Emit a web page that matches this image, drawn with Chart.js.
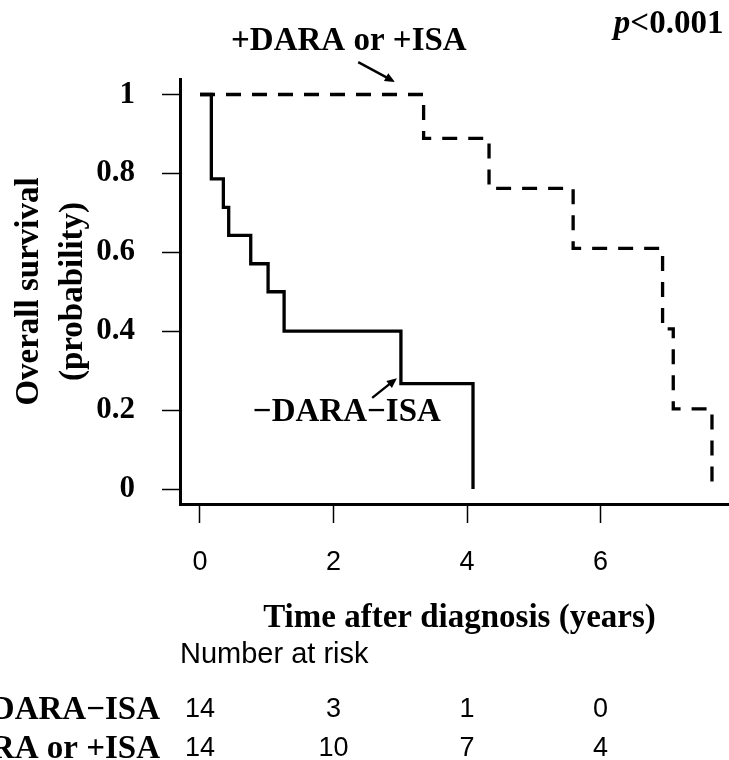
<!DOCTYPE html>
<html>
<head>
<meta charset="utf-8">
<script src="https://cdn.jsdelivr.net/npm/chart.js@4.4.1/dist/chart.umd.min.js"></script>
<style>
  html, body { margin: 0; padding: 0; background: #fff; }
  #wrap { width: 729px; height: 760px; }
</style>
</head>
<body>
<div id="wrap"><canvas id="km" width="729" height="760"></canvas></div>
<script>
// Kaplan-Meier curves (time in years, survival probability)
const groupNames = ['\u2212DARA\u2212ISA', '+DARA or +ISA'];
const noDaraTimes = [0, 0.17, 0.35, 0.43, 0.76, 1.02, 1.26, 3.01, 4.09];
const noDaraSurv = [1, 0.786, 0.714, 0.643, 0.571, 0.5, 0.4, 0.267, 0];
const daraTimes = [0, 3.35, 4.33, 5.59, 6.93, 7.09, 7.67];
const daraSurv = [1, 0.889, 0.762, 0.610, 0.406, 0.203, 0];
const xTickValues = [0, 2, 4, 6];
const yTickValues = [0, 0.2, 0.4, 0.6, 0.8, 1];
const riskNoDara = [14, 3, 1, 0];
const riskDara = [14, 10, 7, 4];
const pValueText = '<0.001';

const SERIF = '"Liberation Serif", "Times New Roman", serif';
const SANS = '"Liberation Sans", Arial, sans-serif';

function toPoints(times, surv) {
    return times.map((t, i) => ({ x: t, y: surv[i] }));
}

function arrow(ctx, x1, y1, x2, y2) {
    const a = Math.atan2(y2 - y1, x2 - x1);
    const len = 10, half = 4.5;
    ctx.beginPath();
    ctx.moveTo(x1, y1);
    ctx.lineTo(x2 - Math.cos(a) * len * 0.8, y2 - Math.sin(a) * len * 0.8);
    ctx.lineWidth = 2.4;
    ctx.stroke();
    ctx.beginPath();
    ctx.moveTo(x2, y2);
    ctx.lineTo(x2 - Math.cos(a) * len - Math.sin(a) * half, y2 - Math.sin(a) * len + Math.cos(a) * half);
    ctx.lineTo(x2 - Math.cos(a) * len + Math.sin(a) * half, y2 - Math.sin(a) * len - Math.cos(a) * half);
    ctx.closePath();
    ctx.fill();
}

const overlayPlugin = {
    id: 'kmOverlay',
    afterDraw(chart) {
        const ctx = chart.ctx;
        const X = v => chart.scales.x.getPixelForValue(v);
        const Y = v => chart.scales.y.getPixelForValue(v);
        const area = chart.chartArea;
        ctx.save();
        ctx.fillStyle = '#000';
        ctx.strokeStyle = '#000';

        // curve labels + arrows
        ctx.font = 'bold 33px ' + SERIF;
        ctx.textAlign = 'center';
        ctx.textBaseline = 'alphabetic';
        ctx.fillText(groupNames[1], X(2.23), Y(1.113));
        ctx.fillText(groupNames[0], X(2.20), Y(0.172));
        arrow(ctx, X(2.37), Y(1.082), X(2.92), Y(1.032));
        arrow(ctx, X(2.58), Y(0.231), X(2.95), Y(0.281));

        // p value, italic p
        ctx.textAlign = 'left';
        ctx.font = 'italic bold 33px ' + SERIF;
        const px = X(6.20), py = Y(1.156);
        ctx.fillText('p', px, py);
        const pw = ctx.measureText('p').width;
        ctx.font = 'bold 33px ' + SERIF;
        ctx.fillText(pValueText, px + pw, py);

        // x axis title
        ctx.textAlign = 'center';
        ctx.fillText('Time after diagnosis (years)', (area.left + area.right) / 2 + 5, 627);

        // number at risk table
        ctx.textAlign = 'left';
        ctx.font = '29px ' + SANS;
        ctx.fillText('Number at risk', area.left, 663);
        const rows = [[groupNames[0], riskNoDara, 717], [groupNames[1], riskDara, 756]];
        rows.forEach(([name, counts, yb]) => {
            ctx.textAlign = 'right';
            ctx.font = 'bold 33px ' + SERIF;
            ctx.fillText(name, 160, yb + 2);
            ctx.textAlign = 'center';
            ctx.font = '27px ' + SANS;
            counts.forEach((n, i) => ctx.fillText(String(n), X(xTickValues[i]), yb));
        });
        ctx.restore();
    }
};

new Chart(document.getElementById('km'), {
    type: 'line',
    data: {
        datasets: [{
            label: groupNames[0],
            data: toPoints(noDaraTimes, noDaraSurv),
            borderColor: '#000',
            borderWidth: 3.3,
            stepped: 'before',
            pointRadius: 0,
            fill: false,
            borderJoinStyle: 'miter'
        }, {
            label: groupNames[1],
            data: toPoints(daraTimes, daraSurv),
            borderColor: '#000',
            borderWidth: 3.3,
            borderDash: [15, 11],
            stepped: 'before',
            pointRadius: 0,
            fill: false,
            borderJoinStyle: 'miter'
        }]
    },
    options: {
        responsive: false,
        animation: false,
        devicePixelRatio: 1,
        layout: { padding: { top: 79, left: 0, right: 0, bottom: 0 } },
        plugins: { legend: { display: false }, tooltip: { enabled: false } },
        scales: {
            x: {
                type: 'linear',
                min: -0.2996,
                max: 7.925,
                afterBuildTicks: s => { s.ticks = xTickValues.map(v => ({ value: v })); },
                afterFit: s => { s.height = 256; },
                grid: { drawOnChartArea: false, drawTicks: true, tickLength: 19, tickColor: '#000', tickWidth: 1.5 },
                border: { display: true, color: '#000', width: 3 },
                ticks: { color: '#000', font: { family: SANS, size: 27 }, padding: 23, maxRotation: 0 }
            },
            y: {
                type: 'linear',
                min: -0.038,
                max: 1.0393,
                afterBuildTicks: s => { s.ticks = yTickValues.map(v => ({ value: v })); },
                afterFit: s => { s.width = 180; },
                grid: { drawOnChartArea: false, drawTicks: true, tickLength: 18, tickColor: '#000', tickWidth: 1.5 },
                border: { display: true, color: '#000', width: 3 },
                ticks: {
                    color: '#000',
                    font: { family: SERIF, size: 31, weight: 'bold' },
                    padding: 27,
                    callback: v => String(+v.toFixed(1))
                },
                title: {
                    display: true,
                    text: ['Overall survival', '(probability)'],
                    color: '#000',
                    font: { family: SERIF, size: 33, weight: 'bold', lineHeight: 1.33 },
                    padding: { top: 8, bottom: 0 }
                }
            }
        }
    },
    plugins: [overlayPlugin]
});
</script>
</body>
</html>
